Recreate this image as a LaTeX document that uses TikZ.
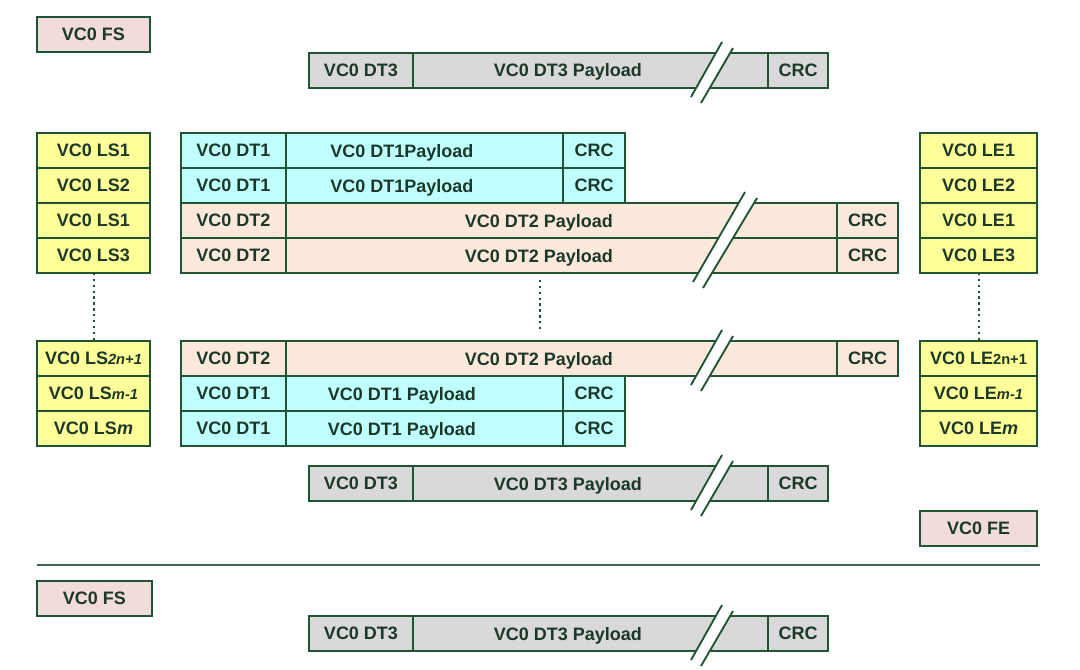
\documentclass[tikz,border=0pt]{standalone}
\usepackage{fontspec}
\setmainfont{Liberation Sans}
\usetikzlibrary{positioning}
\definecolor{frame}{RGB}{33,84,52}
\definecolor{ink}{RGB}{28,56,40}
\definecolor{fsfill}{RGB}{242,220,219}
\definecolor{dtthree}{RGB}{217,217,217}
\definecolor{lsfill}{RGB}{255,255,153}
\definecolor{dtone}{RGB}{191,255,255}
\definecolor{dttwo}{RGB}{252,233,219}
\definecolor{rulec}{RGB}{62,104,78}
\tikzset{
  cell/.style={draw=frame,fill=#1,line width=1.5pt,inner sep=0pt,outer sep=0pt,
    minimum height=26.25pt,text=ink,font=\bfseries\fontsize{13.5}{16}\selectfont},
  cell/.default=lsfill,
  hdr/.style={cell=#1,minimum width=78.75pt,anchor=west},
  pay/.style={label={[text=ink,font=\bfseries\fontsize{13.5}{16}\selectfont,
    text depth=0pt,xshift=-17pt]center:#1}},
  dotline/.style={draw=frame,line width=1.5pt,dash pattern=on 1.8pt off 2.6pt},
  brk/.style={draw=frame,line width=1.4pt},
}
\newcommand{\sm}[1]{{\fontsize{11}{12}\selectfont#1}}
\begin{document}
\begin{tikzpicture}[x=0.75pt,y=-0.75pt]
  \useasboundingbox (0,0) rectangle (1080,669);

  % frame start / end
  \node[cell=fsfill,minimum width=84.75pt] (fs1) at (93.5,34) {VC0 FS};
  \node[cell=fsfill,minimum width=87.75pt] (fe) at (978.5,528.5) {VC0 FE};
  \node[cell=fsfill,minimum width=86.25pt] (fs2) at (94.5,598) {VC0 FS};

  % line start / line end columns
  \foreach \i/\yy/\txt in {1/150.5/1,2/185.5/2,3/220.5/1,4/255.5/3,
                           5/358.5/{\sm{\itshape 2n+1}},6/393.5/{\sm{\itshape m-1}},7/428.5/{\itshape m}}
    \node[cell=lsfill,minimum width=84.75pt] (ls\i) at (93.5,\yy) {VC0 LS\txt};
  \foreach \i/\yy/\txt in {1/150.5/1,2/185.5/2,3/220.5/1,4/255.5/3,
                           5/358.5/{\sm{2n+1}},6/393.5/{\sm{\itshape m-1}},7/428.5/{\itshape m}}
    \node[cell=lsfill,minimum width=87.75pt] (le\i) at (978.5,\yy) {VC0 LE\txt};
  \draw[dotline] (ls4.south) -- (ls5.north);
  \draw[dotline] (le4.south) -- (le5.north);

  % DT3 packets
  \foreach \n/\yy in {a/70,b/483.5,c/633.5}{
    \node[hdr=dtthree,minimum width=78pt] (dt3\n) at (309,\yy) {VC0 DT3};
    \node[cell=dtthree,minimum width=266.25pt,right=0pt of dt3\n,
      pay={VC0 DT3 Payload}] (p3\n) {};
    \node[cell=dtthree,minimum width=45pt,right=0pt of p3\n] (c3\n) {CRC};
  }

  % DT1 packets
  \foreach \n/\yy/\txt in {a/150.5/{VC0 DT1Payload},b/185.5/{VC0 DT1Payload},
                           c/393.5/{VC0 DT1 Payload},d/428.5/{VC0 DT1 Payload}}{
    \node[hdr=dtone] (dt1\n) at (181,\yy) {VC0 DT1};
    \node[cell=dtone,minimum width=207.75pt,right=0pt of dt1\n,pay=\txt] (p1\n) {};
    \node[cell=dtone,minimum width=46.5pt,right=0pt of p1\n] (c1\n) {CRC};
  }

  % DT2 packets
  \foreach \n/\yy in {a/220.5,b/255.5,c/358.5}{
    \node[hdr=dttwo] (dt2\n) at (181,\yy) {VC0 DT2};
    \node[cell=dttwo,minimum width=413.25pt,right=0pt of dt2\n,
      pay={VC0 DT2 Payload}] (p2\n) {};
    \node[cell=dttwo,minimum width=45.75pt,right=0pt of p2\n] (c2\n) {CRC};
  }
  \coordinate (gapT) at (540,280);
  \coordinate (gapB) at (540,330);
  \draw[dotline] (gapT) -- (gapB);

  % breaks in the long payloads
  \foreach \yt in {53,341,466,616}{
    \fill[white] (691,\yt+44) -- (722,\yt-11) -- (733,\yt-5) -- (701,\yt+50) -- cycle;
    \draw[brk] (691,\yt+44) -- (722,\yt-11);
    \draw[brk] (701,\yt+50) -- (733,\yt-5);
  }
  \fill[white] (693,282) -- (745,192) -- (757,198) -- (703,288) -- cycle;
  \draw[brk] (693,282) -- (745,192);
  \draw[brk] (703,288) -- (757,198);

  % separator
  \coordinate (sepL) at (37,565);
  \coordinate (sepR) at (1040,565);
  \draw[rulec,line width=1.8pt] (sepL) -- (sepR);
\end{tikzpicture}
\end{document}
